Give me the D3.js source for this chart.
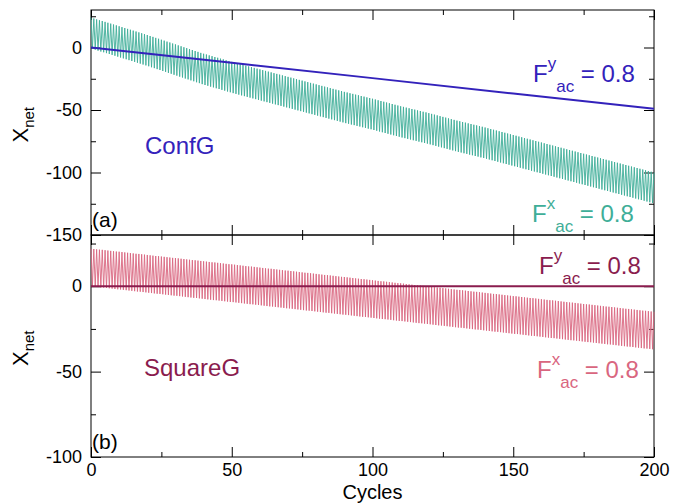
<!DOCTYPE html>
<html>
<head>
<meta charset="utf-8">
<script src="https://cdn.jsdelivr.net/npm/d3@7"></script>
<style>
  body { margin: 0; background: #fff; }
  svg { display: block; font-family: "Liberation Sans", Arial, Helvetica, sans-serif; }
</style>
</head>
<body>
<svg id="chart" width="687" height="504"></svg>
<script>
// tick values
var xTicks = [0, 50, 100, 150, 200];
var xMinor = [25, 75, 125, 175];
var topYTicks = [0, -50, -100, -150];
var topYMinor = [25, -25, -75, -125];
var botYTicks = [0, -50, -100];
var botYMinor = [25, -25, -75];

// panel (a) ConfG : straight F^y line, sampled every 50 cycles
var confLineCycles = [0, 50, 100, 150, 200];
var confLineY = [0, -12.2, -24.5, -36.8, -49];

// panel (a) F^x : value at the top of each cycle (cycles 0..200)
var confPeaks = [
  24.0,
  23.2, 22.5, 21.8, 21.2, 20.5, 19.8, 19.1, 18.4, 17.7, 17.0,
  16.3, 15.6, 14.9, 14.2, 13.5, 12.8, 12.1, 11.4, 10.7, 10.0,
  9.2, 8.5, 7.7, 7.0, 6.2, 5.5, 4.7, 4.0, 3.2, 2.5,
  1.7, 1.0, 0.2, -0.5, -1.3, -2.0, -2.8, -3.5, -4.3, -5.0,
  -5.6, -6.3, -6.9, -7.6, -8.2, -8.9, -9.5, -10.2, -10.8, -11.5,
  -12.1, -12.7, -13.3, -13.9, -14.5, -15.1, -15.7, -16.3, -16.9, -17.5,
  -18.1, -18.7, -19.3, -19.9, -20.5, -21.1, -21.7, -22.3, -22.9, -23.5,
  -24.1, -24.7, -25.3, -25.9, -26.5, -27.1, -27.7, -28.3, -28.9, -29.5,
  -30.1, -30.7, -31.3, -31.9, -32.5, -33.1, -33.7, -34.3, -34.9, -35.5,
  -36.0, -36.6, -37.1, -37.7, -38.2, -38.8, -39.3, -39.9, -40.4, -41.0,
  -41.6, -42.2, -42.8, -43.4, -44.0, -44.6, -45.2, -45.8, -46.4, -47.0,
  -47.5, -48.1, -48.6, -49.2, -49.7, -50.3, -50.8, -51.4, -51.9, -52.5,
  -53.1, -53.7, -54.3, -54.9, -55.5, -56.1, -56.7, -57.3, -57.9, -58.5,
  -59.0, -59.6, -60.1, -60.7, -61.2, -61.8, -62.3, -62.9, -63.4, -64.0,
  -64.6, -65.2, -65.8, -66.4, -67.0, -67.6, -68.2, -68.8, -69.4, -70.0,
  -70.6, -71.2, -71.8, -72.4, -73.0, -73.6, -74.2, -74.8, -75.4, -76.0,
  -76.6, -77.2, -77.8, -78.4, -79.0, -79.6, -80.2, -80.8, -81.4, -82.0,
  -82.6, -83.2, -83.8, -84.4, -85.0, -85.6, -86.2, -86.8, -87.4, -88.0,
  -88.6, -89.2, -89.8, -90.4, -91.0, -91.6, -92.2, -92.8, -93.4, -94.0,
  -94.6, -95.2, -95.8, -96.4, -97.0, -97.6, -98.2, -98.8, -99.4, -100.0
];
// panel (a) F^x : value at the bottom of each cycle (half cycle later)
var confTroughs = [
  -1.0, -1.8, -2.5, -3.2, -3.8, -4.5, -5.2, -5.9, -6.6, -7.3,
  -8.0, -8.7, -9.4, -10.1, -10.8, -11.5, -12.2, -12.9, -13.6, -14.3,
  -15.0, -15.8, -16.5, -17.3, -18.0, -18.8, -19.5, -20.3, -21.0, -21.8,
  -22.5, -23.3, -24.0, -24.8, -25.5, -26.3, -27.0, -27.8, -28.5, -29.3,
  -30.0, -30.6, -31.3, -31.9, -32.6, -33.2, -33.9, -34.5, -35.2, -35.8,
  -36.5, -37.1, -37.7, -38.3, -38.9, -39.5, -40.1, -40.7, -41.3, -41.9,
  -42.5, -43.1, -43.7, -44.3, -44.9, -45.5, -46.1, -46.7, -47.3, -47.9,
  -48.5, -49.1, -49.7, -50.3, -50.9, -51.5, -52.1, -52.7, -53.3, -53.9,
  -54.5, -55.1, -55.7, -56.3, -56.9, -57.5, -58.1, -58.7, -59.3, -59.9,
  -60.5, -61.0, -61.6, -62.1, -62.7, -63.2, -63.8, -64.3, -64.9, -65.4,
  -66.0, -66.6, -67.2, -67.8, -68.4, -69.0, -69.6, -70.2, -70.8, -71.4,
  -72.0, -72.5, -73.1, -73.6, -74.2, -74.7, -75.3, -75.8, -76.4, -76.9,
  -77.5, -78.1, -78.7, -79.3, -79.9, -80.5, -81.1, -81.7, -82.3, -82.9,
  -83.5, -84.0, -84.6, -85.1, -85.7, -86.2, -86.8, -87.3, -87.9, -88.4,
  -89.0, -89.6, -90.2, -90.8, -91.4, -92.0, -92.6, -93.2, -93.8, -94.4,
  -95.0, -95.6, -96.2, -96.8, -97.4, -98.0, -98.6, -99.2, -99.8, -100.4,
  -101.0, -101.6, -102.2, -102.8, -103.4, -104.0, -104.6, -105.2, -105.8, -106.4,
  -107.0, -107.6, -108.2, -108.8, -109.4, -110.0, -110.6, -111.2, -111.8, -112.4,
  -113.0, -113.6, -114.2, -114.8, -115.4, -116.0, -116.6, -117.2, -117.8, -118.4,
  -119.0, -119.6, -120.2, -120.8, -121.4, -122.0, -122.6, -123.2, -123.8, -124.4
];

// panel (b) SquareG : flat F^y line
var squareLineCycles = [0, 50, 100, 150, 200];
var squareLineY = [0, 0, 0, 0, 0];

// panel (b) F^x peaks (cycles 0..200)
var squarePeaks = [
  22.0,
  21.8, 21.6, 21.4, 21.3, 21.1, 20.9, 20.7, 20.5, 20.3, 20.2,
  20.0, 19.8, 19.6, 19.4, 19.2, 19.0, 18.9, 18.7, 18.5, 18.3,
  18.1, 17.9, 17.7, 17.6, 17.4, 17.2, 17.0, 16.8, 16.6, 16.5,
  16.3, 16.1, 15.9, 15.7, 15.5, 15.3, 15.2, 15.0, 14.8, 14.6,
  14.4, 14.2, 14.0, 13.9, 13.7, 13.5, 13.3, 13.1, 12.9, 12.8,
  12.6, 12.4, 12.2, 12.0, 11.8, 11.6, 11.5, 11.3, 11.1, 10.9,
  10.7, 10.5, 10.3, 10.2, 10.0, 9.8, 9.6, 9.4, 9.2, 9.1,
  8.9, 8.7, 8.5, 8.3, 8.1, 7.9, 7.8, 7.6, 7.4, 7.2,
  7.0, 6.8, 6.6, 6.5, 6.3, 6.1, 5.9, 5.7, 5.5, 5.4,
  5.2, 5.0, 4.8, 4.6, 4.4, 4.2, 4.1, 3.9, 3.7, 3.5,
  3.3, 3.1, 2.9, 2.8, 2.6, 2.4, 2.2, 2.0, 1.8, 1.7,
  1.5, 1.3, 1.1, 0.9, 0.7, 0.5, 0.4, 0.2, 0.0, -0.2,
  -0.4, -0.6, -0.8, -0.9, -1.1, -1.3, -1.5, -1.7, -1.9, -2.1,
  -2.2, -2.4, -2.6, -2.8, -3.0, -3.2, -3.3, -3.5, -3.7, -3.9,
  -4.1, -4.3, -4.5, -4.6, -4.8, -5.0, -5.2, -5.4, -5.6, -5.8,
  -5.9, -6.1, -6.3, -6.5, -6.7, -6.9, -7.0, -7.2, -7.4, -7.6,
  -7.8, -8.0, -8.2, -8.3, -8.5, -8.7, -8.9, -9.1, -9.3, -9.5,
  -9.6, -9.8, -10.0, -10.2, -10.4, -10.6, -10.7, -10.9, -11.1, -11.3,
  -11.5, -11.7, -11.9, -12.0, -12.2, -12.4, -12.6, -12.8, -13.0, -13.2,
  -13.3, -13.5, -13.7, -13.9, -14.1, -14.3, -14.4, -14.6, -14.8, -15.0
];
// panel (b) F^x troughs (half cycle after each peak)
var squareTroughs = [
  -0.1, -0.3, -0.5, -0.7, -0.8, -1.0, -1.2, -1.4, -1.6, -1.8,
  -1.9, -2.1, -2.3, -2.5, -2.7, -2.9, -3.1, -3.2, -3.4, -3.6,
  -3.8, -4.0, -4.2, -4.4, -4.5, -4.7, -4.9, -5.1, -5.3, -5.5,
  -5.6, -5.8, -6.0, -6.2, -6.4, -6.6, -6.8, -6.9, -7.1, -7.3,
  -7.5, -7.7, -7.9, -8.1, -8.2, -8.4, -8.6, -8.8, -9.0, -9.2,
  -9.3, -9.5, -9.7, -9.9, -10.1, -10.3, -10.5, -10.6, -10.8, -11.0,
  -11.2, -11.4, -11.6, -11.8, -11.9, -12.1, -12.3, -12.5, -12.7, -12.9,
  -13.0, -13.2, -13.4, -13.6, -13.8, -14.0, -14.2, -14.3, -14.5, -14.7,
  -14.9, -15.1, -15.3, -15.5, -15.6, -15.8, -16.0, -16.2, -16.4, -16.6,
  -16.7, -16.9, -17.1, -17.3, -17.5, -17.7, -17.9, -18.0, -18.2, -18.4,
  -18.6, -18.8, -19.0, -19.2, -19.3, -19.5, -19.7, -19.9, -20.1, -20.3,
  -20.4, -20.6, -20.8, -21.0, -21.2, -21.4, -21.6, -21.7, -21.9, -22.1,
  -22.3, -22.5, -22.7, -22.9, -23.0, -23.2, -23.4, -23.6, -23.8, -24.0,
  -24.2, -24.3, -24.5, -24.7, -24.9, -25.1, -25.3, -25.4, -25.6, -25.8,
  -26.0, -26.2, -26.4, -26.6, -26.7, -26.9, -27.1, -27.3, -27.5, -27.7,
  -27.9, -28.0, -28.2, -28.4, -28.6, -28.8, -29.0, -29.1, -29.3, -29.5,
  -29.7, -29.9, -30.1, -30.3, -30.4, -30.6, -30.8, -31.0, -31.2, -31.4,
  -31.6, -31.7, -31.9, -32.1, -32.3, -32.5, -32.7, -32.8, -33.0, -33.2,
  -33.4, -33.6, -33.8, -34.0, -34.1, -34.3, -34.5, -34.7, -34.9, -35.1,
  -35.3, -35.4, -35.6, -35.8, -36.0, -36.2, -36.4, -36.5, -36.7, -36.9
];

var svg = d3.select('#chart');
var left = 91, right = 654;
var topA = 10, mid = 235, botB = 457;

var x = d3.scaleLinear().domain([0, 200]).range([left, right]);
var yA = d3.scaleLinear().domain([-150, 30]).range([mid, topA]);
var yB = d3.scaleLinear().domain([-100, 30]).range([botB, mid]);

// plain hyphen for negatives, like the original plot
var numFmt = function(d) { return String(d); };

// turn peaks + troughs into one zigzag
function zigzag(peaks, troughs) {
  var pts = [];
  for (var i = 0; i < peaks.length; i++) {
    pts.push([i, peaks[i]]);
    if (i < troughs.length) pts.push([i + 0.5, troughs[i]]);
  }
  return pts;
}

function drawPanel(y, y0, y1, majorY, minorY, showXLabels) {
  var g = svg.append('g');

  // major / minor ticks on all four sides, pointing in
  function addAxis(axis, tx, ty) {
    var a = g.append('g').attr('transform', 'translate(' + tx + ',' + ty + ')').call(axis);
    a.select('.domain').remove();
    a.selectAll('.tick line').attr('stroke', '#000').attr('stroke-width', 1);
    a.selectAll('text').attr('font-size', 18).attr('font-family', '"Liberation Sans", Arial, sans-serif').attr('fill', '#000');
    return a;
  }
  addAxis(d3.axisLeft(y).tickValues(majorY).tickSizeInner(-10).tickSizeOuter(0).tickPadding(9).tickFormat(numFmt), left, 0);
  addAxis(d3.axisLeft(y).tickValues(minorY).tickSizeInner(-5).tickSizeOuter(0).tickFormat(''), left, 0);
  addAxis(d3.axisRight(y).tickValues(majorY).tickSizeInner(-10).tickSizeOuter(0).tickFormat(''), right, 0);
  addAxis(d3.axisRight(y).tickValues(minorY).tickSizeInner(-5).tickSizeOuter(0).tickFormat(''), right, 0);
  addAxis(d3.axisTop(x).tickValues(xTicks).tickSizeInner(-10).tickSizeOuter(0).tickFormat(''), 0, y1);
  addAxis(d3.axisTop(x).tickValues(xMinor).tickSizeInner(-5).tickSizeOuter(0).tickFormat(''), 0, y1);
  addAxis(d3.axisBottom(x).tickValues(xTicks).tickSizeInner(-10).tickSizeOuter(0).tickPadding(6)
            .tickFormat(showXLabels ? numFmt : ''), 0, y0);
  addAxis(d3.axisBottom(x).tickValues(xMinor).tickSizeInner(-5).tickSizeOuter(0).tickFormat(''), 0, y0);

  g.append('rect')
    .attr('x', left).attr('y', y1)
    .attr('width', right - left).attr('height', y0 - y1)
    .attr('fill', 'none').attr('stroke', '#000').attr('stroke-width', 1);

  // X_net label
  var lab = g.append('text')
    .attr('transform', 'translate(28,' + ((y0 + y1) / 2 + 20) + ') rotate(-90)')
    .attr('font-size', 22).attr('fill', '#000');
  lab.append('tspan').text('X');
  lab.append('tspan').attr('font-size', 15).attr('dy', 6).text('net');
  return g;
}

drawPanel(yA, mid, topA, topYTicks, topYMinor, false);
drawPanel(yB, botB, mid, botYTicks, botYMinor, true);

var line = function(y) {
  return d3.line().x(d => x(d[0])).y(d => y(d[1]));
};

// panel (a) data
svg.append('path')
  .datum(zigzag(confPeaks, confTroughs))
  .attr('d', line(yA))
  .attr('fill', 'none').attr('stroke', '#3fae98').attr('stroke-width', 0.9);
svg.append('path')
  .datum(confLineCycles.map((c, i) => [c, confLineY[i]]))
  .attr('d', line(yA))
  .attr('fill', 'none').attr('stroke', '#3322bb').attr('stroke-width', 2);

// panel (b) data
svg.append('path')
  .datum(zigzag(squarePeaks, squareTroughs))
  .attr('d', line(yB))
  .attr('fill', 'none').attr('stroke', '#d96680').attr('stroke-width', 0.9);
svg.append('path')
  .datum(squareLineCycles.map((c, i) => [c, squareLineY[i]]))
  .attr('d', line(yB))
  .attr('fill', 'none').attr('stroke', '#8a1c4e').attr('stroke-width', 2);

// F^k_ac = 0.8 annotation
function forceLabel(px, py, k, color) {
  var t = svg.append('text').attr('x', px).attr('y', py)
    .attr('font-size', 24).attr('fill', color);
  t.append('tspan').text('F');
  t.append('tspan').attr('font-size', 17).attr('dy', -13).text(k);
  t.append('tspan').attr('font-size', 17).attr('dy', 23).text('ac');
  t.append('tspan').attr('dy', -10).text(' = 0.8');
}

function plainLabel(px, py, s, color, size) {
  svg.append('text').attr('x', px).attr('y', py)
    .attr('font-size', size).attr('fill', color).text(s);
}

forceLabel(533, 82, 'y', '#3322bb');
forceLabel(532, 222, 'x', '#3fae98');
plainLabel(145, 154, 'ConfG', '#3322bb', 24);
plainLabel(92, 227, '(a)', '#000', 21);

forceLabel(539, 274, 'y', '#8a1c4e');
forceLabel(537, 378, 'x', '#d96680');
plainLabel(144, 376, 'SquareG', '#8a1c4e', 24);
plainLabel(92, 449, '(b)', '#000', 21);

svg.append('text')
  .attr('x', x(100)).attr('y', 499)
  .attr('text-anchor', 'middle')
  .attr('font-size', 20).attr('fill', '#000')
  .text('Cycles');
</script>
</body>
</html>
